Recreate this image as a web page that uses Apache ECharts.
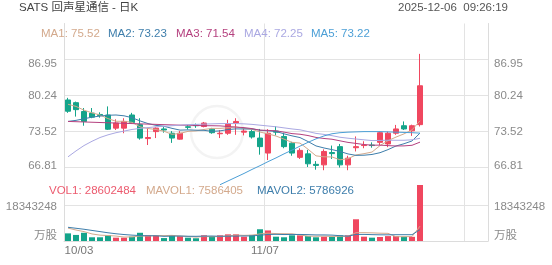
<!DOCTYPE html>
<html><head><meta charset="utf-8">
<script src="https://cdn.jsdelivr.net/npm/echarts@6/dist/echarts.min.js"></script>
<style>html,body{margin:0;padding:0;background:#fff}#c{width:552px;height:265px}</style>
</head><body><div id="c"></div>
<script>
const dates = ['10/03','10/06','10/07','10/08','10/09','10/10','10/13','10/14','10/15','10/16','10/17','10/20','10/21','10/22','10/23','10/24','10/27','10/28','10/29','10/30','10/31','11/03','11/04','11/05','11/06','11/07','11/10','11/11','11/12','11/13','11/14','11/17','11/18','11/19','11/20','11/21','11/24','11/25','11/26','11/28','12/01','12/02','12/03','12/04','12/05'];
const openP  = [79.4,78.9,77.25,76.95,76.7,76.6,74.15,74.15,76.6,74.8,72.2,73.5,74.0,73.2,72.1,74.4,74.7,74.45,73.96,73.1,73.2,75.1,73.4,73.5,72.3,69.5,73.6,72.6,71.35,68.7,69.35,67.4,67.3,69.6,70.7,67.3,70.5,70.9,71.0,71.5,71.2,73.2,74.6,73.65,74.8];
const closeP = [77.3,77.6,75.4,76.2,76.5,73.95,75.1,75.4,75.2,72.3,72.4,74.15,73.8,72.3,73.2,74.3,74.6,75.1,73.3,73.2,74.9,75.4,73.6,72.5,70.7,73.2,73.4,70.7,69.5,70.0,67.5,67.2,69.8,69.4,67.3,68.55,70.7,71.0,70.9,73.3,73.2,74.0,74.0,74.6,82.05];
const lowP   = [77.0,76.3,74.6,76.0,76.1,73.8,73.8,73.2,75.0,72.0,71.0,72.3,73.3,71.4,72.0,73.9,74.2,74.3,73.1,72.3,72.9,72.9,72.8,72.2,69.2,68.2,72.8,70.4,69.0,68.4,66.9,66.4,66.3,68.4,66.8,66.3,69.8,70.4,70.5,71.0,70.6,72.9,73.8,72.7,74.45];
const highP  = [79.8,79.1,77.9,77.9,77.1,78.2,75.8,76.0,77.0,76.0,74.2,74.3,74.4,73.6,73.6,74.7,75.0,75.3,74.2,73.8,75.7,76.0,74.2,73.9,74.0,73.96,74.5,73.3,71.6,70.4,70.1,68.0,70.2,70.9,71.2,69.0,72.6,71.7,71.5,73.5,73.5,74.75,75.4,74.8,88.0];
const volume = [3900000,3100000,4200000,1900000,1900000,2900000,1700000,1700000,2200000,4200000,2900000,2900000,1500000,2900000,2500000,1700000,1400000,2900000,2500000,2900000,3400000,3400000,2200000,3100000,6000000,5400000,2200000,1900000,2900000,2900000,2500000,1900000,2200000,2200000,2900000,2900000,11100000,2200000,1700000,2040000,2500000,2500000,2200000,2130000,28602484];
const ma1 = [78.6,78.2,77.5,77.0,76.6,75.93,75.43,75.43,75.23,74.39,74.08,73.89,73.57,72.99,73.17,73.55,73.64,73.9,74.1,74.1,74.22,74.38,74.08,73.92,73.42,73.08,72.68,72.1,71.5,71.36,70.22,68.98,68.8,68.78,68.24,68.45,69.15,69.39,69.69,70.89,71.82,72.48,73.08,73.82,75.52];
const ma2 = [75.4,75.6,75.9,76.2,76.4,76.55,76.6,76.45,76.1,75.5,75.0,74.66,74.5,74.11,73.78,73.82,73.77,73.74,73.55,73.64,73.89,74.01,73.99,74.01,73.76,73.65,73.53,73.09,72.71,72.39,71.65,70.83,70.45,70.14,69.8,69.34,69.07,69.1,69.24,69.57,70.14,70.82,71.24,71.76,73.23];
const ma3 = [75.4,75.35,75.3,75.25,75.2,75.15,75.1,75.05,75.0,74.95,74.9,74.85,74.8,74.75,74.7,74.7,74.65,74.6,74.6,74.57,74.45,74.34,74.25,74.06,73.77,73.73,73.65,73.41,73.13,73.01,72.77,72.42,72.22,72.08,71.78,71.49,71.3,71.09,70.97,70.98,70.89,70.82,70.84,70.95,71.54];
const ma4 = [68.8,69.9,70.9,71.7,72.4,72.9,73.3,73.6,73.9,74.1,74.25,74.4,74.5,74.6,74.7,74.8,74.85,74.9,74.95,75.0,75.0,75.0,74.95,74.85,74.7,74.55,74.4,74.2,74.0,73.84,73.51,73.17,72.98,72.75,72.45,72.27,72.12,71.97,71.83,71.86,71.89,71.89,71.89,71.97,72.25];
const ma5 = [null,null,null,null,null,null,null,null,null,null,null,null,null,null,null,null,null,null,null,63.6,64.3,65.0,65.7,66.45,67.15,67.9,68.6,69.35,70.05,70.8,71.5,72.15,72.7,73.1,73.3,73.4,73.45,73.5,73.5,73.5,73.45,73.4,73.35,73.3,73.22];
const mavol1 = [6600000,5600000,4800000,3600000,3000000,2800000,2520000,2020000,2080000,2540000,2540000,2780000,2740000,2880000,2540000,2300000,2000000,2280000,2200000,2280000,2620000,3020000,2880000,3000000,3620000,4020000,3780000,3720000,3680000,3060000,2480000,2420000,2480000,2340000,2340000,2420000,4260000,4260000,4160000,3990000,3910000,2190000,2190000,2270000,7586405];
const mavol2 = [7000000,6500000,6000000,5400000,4800000,4200000,3700000,3300000,3000000,2770000,2670000,2650000,2380000,2480000,2540000,2420000,2390000,2510000,2540000,2410000,2460000,2510000,2580000,2600000,2950000,3320000,3400000,3300000,3340000,3340000,3250000,3100000,3100000,3010000,2700000,2450000,3340000,3370000,3250000,3160000,3160000,3220000,3220000,3220000,5786926];
const maNames = ['MA1','MA2','MA3','MA4','MA5'];
const maLast = ['75.52','73.23','71.54','72.25','73.22'];
const volLegend = ['VOL1: 28602484','MAVOL1: 7586405','MAVOL2: 5786926'];
const xLabelDates = ['10/03','11/07'];
const priceMin = 60.0952, priceStep = 6.7136;
const volTick = 18343248, volMax = 28602484;
const PAD = 8;

const UP = '#f0475f', DOWN = '#14a48a';
const maColors = ['#d3a98c','#3e7eab','#b5417f','#aaa8e2','#4c9fd6'];
const FONT = '"Liberation Sans","Noto Sans CJK SC",sans-serif';
const FS = 11.5;
const GRID = '#e3e3e3';
const LBL = '#8a8a8a';

const cats = dates.concat(new Array(PAD).fill(''));
const kData = dates.map((d,i)=>[openP[i],closeP[i],lowP[i],highP[i]]);
const volData = volume.map((v,i)=>({value:v,itemStyle:{color: closeP[i]>=openP[i]?UP:DOWN}}));

const chart = echarts.init(document.getElementById('c'));
const priceLabel = {
  showMinLabel:false, showMaxLabel:false, color:LBL, fontSize:FS, fontFamily:FONT,
  formatter: v => (Math.abs(v-(priceMin+4*priceStep))<0.01 ? '{t|'+v.toFixed(2)+'}' : (Math.abs(v-(priceMin+priceStep))<0.01 ? '{b|'+v.toFixed(2)+'}' : v.toFixed(2))),
  rich:{t:{padding:[8,0,0,0],color:LBL,fontSize:FS,fontFamily:FONT}, b:{padding:[0,0,3,0],color:LBL,fontSize:FS,fontFamily:FONT}}
};
const volLabel = {
  showMinLabel:true, showMaxLabel:false, color:LBL, fontSize:FS, fontFamily:FONT,
  formatter: v => v===0 ? '{w|万股}' : '{n|'+String(v)+'}',
  rich:{w:{padding:[0,0,10,0],color:LBL,fontSize:FS,fontFamily:FONT}, n:{padding:[4,0,0,0],color:LBL,fontSize:FS,fontFamily:FONT}}
};
const axLine = {show:true, lineStyle:{color:'#dcdcdc',width:1}};

const texts = [];
texts.push({type:'circle', shape:{cx:217, cy:132, r:26}, silent:true, z:0, style:{fill:'none', stroke:'#f3f3f3', lineWidth:2.5}});
texts.push({type:'text', x:19, y:8, style:{text:'SATS 回声星通信 - 日K', fill:'#444', font:FS+'px '+FONT, verticalAlign:'middle', align:'left'}});
texts.push({type:'text', x:508, y:8, style:{text:'2025-12-06  09:26:19', fill:'#555', font:FS+'px '+FONT, verticalAlign:'middle', align:'right'}});
const maX = [41,108,176,244,311];
maNames.forEach((n,i)=>texts.push({type:'text', x:maX[i], y:34, z:10, style:{text:n+': '+maLast[i], fill:maColors[i], font:FS+'px '+FONT, verticalAlign:'middle', align:'left'}}));
const vlX = [49,146,257], vlC = ['#ec5a6e','#d3a98c','#3e7eab'];
volLegend.forEach((t,i)=>texts.push({type:'text', x:vlX[i], y:191, z:10, style:{text:t, fill:vlC[i], font:FS+'px '+FONT, verticalAlign:'middle', align:'left'}}));

const lineS = (name,data,color,xi,yi)=>({name,type:'line',data,xAxisIndex:xi,yAxisIndex:yi,showSymbol:false,symbol:'none',lineStyle:{width:1,color},itemStyle:{color},connectNulls:false,z:3});

chart.setOption({
  animation:false,
  backgroundColor:'#fff',
  textStyle:{fontFamily:FONT},
  grid:[{left:64,right:64,top:23.5,height:180},{left:64,right:64,top:185,height:56}],
  xAxis:[
    {gridIndex:0,type:'category',data:cats,boundaryGap:true,axisLine:{show:false},axisTick:{show:false},axisLabel:{show:false},splitLine:{show:true,interval:24,lineStyle:{color:GRID}}},
    {gridIndex:1,type:'category',data:cats,boundaryGap:true,axisLine:axLine,axisTick:{show:false},
     splitLine:{show:true,interval:24,lineStyle:{color:GRID}},
     axisLabel:{interval:(idx,val)=>xLabelDates.indexOf(val)>=0,color:'#777',fontSize:FS,fontFamily:FONT,margin:4,
       formatter:(v)=> v===xLabelDates[0] ? '{l|'+v+'}' : '{c|'+v+'}',
       rich:{l:{padding:[0,0,0,22],color:'#777',fontSize:FS,fontFamily:FONT},c:{padding:[0,6,0,0],color:'#777',fontSize:FS,fontFamily:FONT}}}}
  ],
  yAxis:[
    {gridIndex:0,position:'left',type:'value',min:priceMin,max:priceMin+5*priceStep,interval:priceStep,axisLine:axLine,axisTick:{show:false},
     splitLine:{show:true,lineStyle:{color:['rgba(0,0,0,0)',GRID,GRID,GRID,GRID,'rgba(0,0,0,0)']}},axisLabel:Object.assign({margin:7},priceLabel)},
    {gridIndex:0,position:'right',type:'value',min:priceMin,max:priceMin+5*priceStep,interval:priceStep,axisLine:axLine,axisTick:{show:false},
     splitLine:{show:false},axisLabel:Object.assign({margin:6},priceLabel)},
    {gridIndex:1,position:'left',type:'value',min:0,max:volMax,interval:volTick,axisLine:axLine,axisTick:{show:false},
     splitLine:{show:true,lineStyle:{color:[GRID,GRID,'rgba(0,0,0,0)']}},axisLabel:Object.assign({margin:7},volLabel)},
    {gridIndex:1,position:'right',type:'value',min:0,max:volMax,interval:volTick,axisLine:axLine,axisTick:{show:false},
     splitLine:{show:false},axisLabel:Object.assign({margin:6},volLabel)}
  ],
  graphic:texts,
  series:[
    {type:'candlestick',data:kData,xAxisIndex:0,yAxisIndex:0,barWidth:6,
     itemStyle:{color:UP,color0:DOWN,borderColor:UP,borderColor0:DOWN,borderWidth:1},z:2},
    lineS('MA1',ma1,maColors[0],0,0),
    lineS('MA2',ma2,maColors[1],0,0),
    lineS('MA3',ma3,maColors[2],0,0),
    lineS('MA4',ma4,maColors[3],0,0),
    lineS('MA5',ma5,maColors[4],0,0),
    {type:'bar',data:volData,xAxisIndex:1,yAxisIndex:2,barWidth:6,z:2},
    lineS('MAVOL1',mavol1,maColors[0],1,2),
    lineS('MAVOL2',mavol2,maColors[1],1,2)
  ]
});
</script></body></html>
